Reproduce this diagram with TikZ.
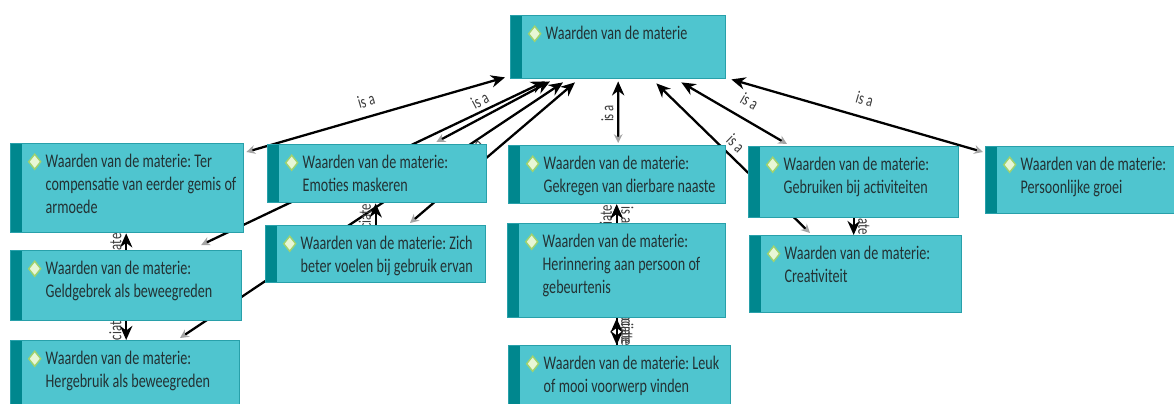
\documentclass[tikz,border=0pt]{standalone}
\usepackage{fontspec}
\setmainfont{Carlito}[FakeStretch=0.73]
\usetikzlibrary{arrows.meta}
\pgfdeclarelayer{background}
\pgfsetlayers{background,main}

\definecolor{boxfill}{RGB}{79,197,207}
\definecolor{boxline}{RGB}{40,160,170}
\definecolor{boxstrip}{RGB}{0,135,142}
\definecolor{boxtext}{RGB}{35,50,52}
\definecolor{diamfill}{RGB}{232,247,214}
\definecolor{diamline}{RGB}{160,210,110}
\definecolor{tipgray}{RGB}{165,165,165}
\definecolor{lblgray}{RGB}{60,60,60}

\tikzset{
  concept/.style 2 args={draw=boxline, line width=0.8pt, fill=boxfill, anchor=north west,
    text=boxtext, font=\fontsize{11}{13}\selectfont, align=left,
    inner xsep=0pt, inner ysep=0pt, text width=#1, text height=0.48cm, text depth=#2,
    execute at begin node={\frenchspacing\spaceskip=1.9pt plus 1pt\leftskip=0.7cm\rightskip=-0.3cm plus 1fil},
    path picture={
      \fill[boxstrip] (path picture bounding box.north west) rectangle ([xshift=0.22cm]path picture bounding box.south west);
      \filldraw[fill=diamfill, draw=diamline, line width=0.8pt]
        ([shift={(0.48cm,-0.36cm)}]path picture bounding box.north west)
        +(0,0.15cm) -- +(0.12cm,0) -- +(0,-0.15cm) -- +(-0.12cm,0) -- cycle;
    }},
  isa/.style={draw, line width=1.3pt,
    arrows={Stealth[color=tipgray,length=5pt,width=5pt]-Stealth[length=8pt,width=7pt]}},
  assoc/.style={draw, line width=1.3pt, arrows={-Stealth[length=8pt,width=7pt]}},
  lbl/.style={font=\fontsize{10}{11}\selectfont, text=lblgray, inner sep=2pt,
    execute at begin node={\spaceskip=1.7pt}},
}

\begin{document}
\begin{tikzpicture}[x=0.02cm, y=-0.02cm]

  \useasboundingbox (0,0) rectangle (1174,403);

  % concepts
  \node[concept={4.30cm}{0.78cm}] (root) at (510,15) {Waarden van de materie};

  \node[concept={4.66cm}{1.30cm}] (ter)   at (10,143)  {Waarden van de materie: Ter\\compensatie van eerder gemis of\\armoede};
  \node[concept={4.62cm}{0.92cm}] (geld)  at (10,250)  {Waarden van de materie:\\Geldgebrek als beweegreden};
  \node[concept={4.58cm}{1.02cm}] (herg)  at (10,340)  {Waarden van de materie:\\Hergebruik als beweegreden};
  \node[concept={4.38cm}{0.68cm}] (emo)   at (267,144) {Waarden van de materie:\\Emoties maskeren};
  \node[concept={4.40cm}{0.66cm}] (zich)  at (265,225) {Waarden van de materie: Zich\\beter voelen bij gebruik ervan};
  \node[concept={4.34cm}{0.68cm}] (gekr)  at (508,145) {Waarden van de materie:\\Gekregen van dierbare naaste};
  \node[concept={4.36cm}{1.40cm}] (herin) at (507,223) {Waarden van de materie:\\Herinnering aan persoon of\\gebeurtenis};
  \node[concept={4.44cm}{1.02cm}] (leuk)  at (508,345) {Waarden van de materie: Leuk\\of mooi voorwerp vinden};
  \node[concept={4.20cm}{0.94cm}] (gebr)  at (748,146) {Waarden van de materie:\\Gebruiken bij activiteiten};
  \node[concept={4.24cm}{1.06cm}] (crea)  at (749,235) {Waarden van de materie:\\Creativiteit};
  \node[concept={3.90cm}{0.86cm}] (pers)  at (985,146) {Waarden van de materie:\\Persoonlijke groei};

  \begin{pgfonlayer}{background}
    \fill[white] (0,0) rectangle (1174,403);

    % is a
    \draw[isa] ([shift={(2,9)}]ter.north east) -- node[lbl, pos=0.48, sloped, above=3pt] {is a} ([shift={(-5,-2)}]root.south west);
    \draw[isa] ([shift={(75,-5)}]geld.north) -- ([shift={(35,2)}]root.south west);
    \draw[isa] ([shift={(-51,-2)}]emo.north east) -- node[lbl, pos=0.45, sloped, above=3pt] {is a} ([shift={(40,2)}]root.south west);
    \draw[isa] ([shift={(170,-2)}]herg.north west) -- ([shift={(53,3)}]root.south west);
    \draw[isa] ([shift={(145,-2)}]zich.north west) -- node[lbl, pos=0.45, sloped, above=3pt] {is a} ([shift={(65,3)}]root.south west);
    \draw[isa] ([shift={(1,-2)}]gekr.north) -- node[lbl, pos=0.48, rotate=90, anchor=south] {is a} ([shift={(0,2)}]root.south);
    \draw[isa] ([shift={(39,-2)}]gebr.north west) -- node[lbl, pos=0.44, sloped, above=4pt] {is a} ([shift={(-45,3)}]root.south east);
    \draw[isa] ([shift={(61,-2)}]crea.north west) -- node[lbl, pos=0.54, sloped, above=1pt] {is a} ([shift={(-70,4)}]root.south east);
    \draw[isa] ([shift={(-2,6)}]pers.north west) -- node[lbl, pos=0.49, sloped, above=4pt] {is a} ([shift={(5,0)}]root.south east);

    % associate
    \draw[assoc] (geld.north) -- node[lbl, pos=-0.45, rotate=90, anchor=south] {associate} (geld.north |- ter.south);
    \draw[assoc] (geld.south) -- node[lbl, pos=0.95, rotate=90, anchor=south] {associate} (geld.south |- herg.north);
    \draw[assoc] (zich.north) -- node[lbl, pos=-0.13, rotate=90, anchor=south] {associate} (zich.north |- emo.south);
    \draw[assoc] (herin.north) -- node[lbl, pos=-0.3, rotate=90, anchor=south] {associate} (herin.north |- gekr.south);
    \draw[assoc] (herin.north) -- node[lbl, pos=0.45, rotate=-90, anchor=south] {is a} (herin.north |- gekr.south);
    \draw[assoc] (herin.south) -- node[lbl, pos=0.04, rotate=-90, anchor=south] {associate} (herin.south |- leuk.north);
    \draw[assoc] (herin.south |- leuk.north) -- node[lbl, pos=0.86, rotate=-90, anchor=south] {associate} (herin.south);
    \draw[assoc] (gebr.south) -- node[lbl, pos=-0.44, rotate=-90, anchor=south] {associate} (gebr.south |- crea.north);
  \end{pgfonlayer}

\end{tikzpicture}
\end{document}
